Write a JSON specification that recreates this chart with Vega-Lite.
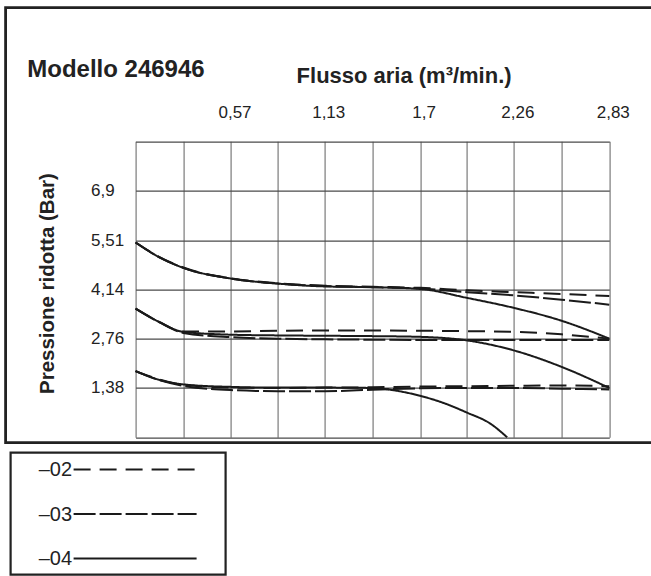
{
  "$schema": "https://vega.github.io/schema/vega-lite/v6.json",
  "autosize": {"type": "pad"},
  "padding": {"left": 3.6, "top": 5.6, "right": -3.4, "bottom": 0},
  "spacing": 3,
  "background": "white",
  "vconcat": [
    {
      "width": 648,
      "height": 435,
      "view": {"stroke": "#222", "strokeWidth": 2.8},
      "title": {"text": "Modello 246946", "anchor": "start", "frame": "group", "dx": 21.7, "dy": 93, "offset": 0, "baseline": "alphabetic", "fontSize": 24, "fontWeight": "bold", "font": "Liberation Sans", "color": "#222"},
      "data": {"values": [
        {"g":"A","s":"02","x":0,"y":5.45},{"g":"A","s":"02","x":0.14,"y":5.05},{"g":"A","s":"02","x":0.285,"y":4.75},{"g":"A","s":"02","x":0.57,"y":4.45},{"g":"A","s":"02","x":0.85,"y":4.31},{"g":"A","s":"02","x":1.13,"y":4.24},{"g":"A","s":"02","x":1.415,"y":4.21},{"g":"A","s":"02","x":1.7,"y":4.18},{"g":"A","s":"02","x":1.98,"y":4.11},{"g":"A","s":"02","x":2.26,"y":4.06},{"g":"A","s":"02","x":2.545,"y":4.01},{"g":"A","s":"02","x":2.83,"y":3.95},
        {"g":"A","s":"03","x":0,"y":5.45},{"g":"A","s":"03","x":0.14,"y":5.04},{"g":"A","s":"03","x":0.285,"y":4.74},{"g":"A","s":"03","x":0.57,"y":4.44},{"g":"A","s":"03","x":0.85,"y":4.3},{"g":"A","s":"03","x":1.13,"y":4.23},{"g":"A","s":"03","x":1.415,"y":4.2},{"g":"A","s":"03","x":1.7,"y":4.16},{"g":"A","s":"03","x":1.98,"y":4.06},{"g":"A","s":"03","x":2.26,"y":3.97},{"g":"A","s":"03","x":2.545,"y":3.85},{"g":"A","s":"03","x":2.83,"y":3.71},
        {"g":"A","s":"04","x":0,"y":5.45},{"g":"A","s":"04","x":0.14,"y":5.04},{"g":"A","s":"04","x":0.285,"y":4.74},{"g":"A","s":"04","x":0.57,"y":4.44},{"g":"A","s":"04","x":0.85,"y":4.3},{"g":"A","s":"04","x":1.13,"y":4.22},{"g":"A","s":"04","x":1.415,"y":4.2},{"g":"A","s":"04","x":1.7,"y":4.15},{"g":"A","s":"04","x":1.98,"y":3.9},{"g":"A","s":"04","x":2.26,"y":3.62},{"g":"A","s":"04","x":2.545,"y":3.26},{"g":"A","s":"04","x":2.83,"y":2.76},
        {"g":"B","s":"02","x":0,"y":3.6},{"g":"B","s":"02","x":0.14,"y":3.23},{"g":"B","s":"02","x":0.285,"y":2.96},{"g":"B","s":"02","x":0.57,"y":2.96},{"g":"B","s":"02","x":0.85,"y":2.98},{"g":"B","s":"02","x":1.13,"y":2.99},{"g":"B","s":"02","x":1.415,"y":2.99},{"g":"B","s":"02","x":1.7,"y":2.98},{"g":"B","s":"02","x":1.98,"y":2.97},{"g":"B","s":"02","x":2.26,"y":2.95},{"g":"B","s":"02","x":2.545,"y":2.88},{"g":"B","s":"02","x":2.83,"y":2.76},
        {"g":"B","s":"03","x":0,"y":3.6},{"g":"B","s":"03","x":0.14,"y":3.22},{"g":"B","s":"03","x":0.285,"y":2.92},{"g":"B","s":"03","x":0.57,"y":2.8},{"g":"B","s":"03","x":0.85,"y":2.76},{"g":"B","s":"03","x":1.13,"y":2.74},{"g":"B","s":"03","x":1.415,"y":2.73},{"g":"B","s":"03","x":1.7,"y":2.72},{"g":"B","s":"03","x":1.98,"y":2.72},{"g":"B","s":"03","x":2.26,"y":2.72},{"g":"B","s":"03","x":2.545,"y":2.72},{"g":"B","s":"03","x":2.83,"y":2.72},
        {"g":"B","s":"04","x":0,"y":3.6},{"g":"B","s":"04","x":0.14,"y":3.23},{"g":"B","s":"04","x":0.285,"y":2.95},{"g":"B","s":"04","x":0.57,"y":2.87},{"g":"B","s":"04","x":0.85,"y":2.85},{"g":"B","s":"04","x":1.13,"y":2.84},{"g":"B","s":"04","x":1.415,"y":2.83},{"g":"B","s":"04","x":1.7,"y":2.81},{"g":"B","s":"04","x":1.98,"y":2.71},{"g":"B","s":"04","x":2.26,"y":2.43},{"g":"B","s":"04","x":2.545,"y":1.97},{"g":"B","s":"04","x":2.83,"y":1.38},
        {"g":"C","s":"02","x":0,"y":1.85},{"g":"C","s":"02","x":0.14,"y":1.62},{"g":"C","s":"02","x":0.285,"y":1.47},{"g":"C","s":"02","x":0.57,"y":1.39},{"g":"C","s":"02","x":0.85,"y":1.38},{"g":"C","s":"02","x":1.13,"y":1.39},{"g":"C","s":"02","x":1.415,"y":1.4},{"g":"C","s":"02","x":1.7,"y":1.42},{"g":"C","s":"02","x":1.98,"y":1.43},{"g":"C","s":"02","x":2.26,"y":1.44},{"g":"C","s":"02","x":2.545,"y":1.45},{"g":"C","s":"02","x":2.83,"y":1.43},
        {"g":"C","s":"03","x":0,"y":1.85},{"g":"C","s":"03","x":0.14,"y":1.6},{"g":"C","s":"03","x":0.285,"y":1.44},{"g":"C","s":"03","x":0.57,"y":1.32},{"g":"C","s":"03","x":0.85,"y":1.29},{"g":"C","s":"03","x":1.13,"y":1.29},{"g":"C","s":"03","x":1.415,"y":1.33},{"g":"C","s":"03","x":1.7,"y":1.37},{"g":"C","s":"03","x":1.98,"y":1.38},{"g":"C","s":"03","x":2.26,"y":1.38},{"g":"C","s":"03","x":2.545,"y":1.36},{"g":"C","s":"03","x":2.83,"y":1.34},
        {"g":"C","s":"04","x":0,"y":1.85},{"g":"C","s":"04","x":0.14,"y":1.61},{"g":"C","s":"04","x":0.285,"y":1.48},{"g":"C","s":"04","x":0.57,"y":1.41},{"g":"C","s":"04","x":0.85,"y":1.39},{"g":"C","s":"04","x":1.13,"y":1.39},{"g":"C","s":"04","x":1.415,"y":1.38},{"g":"C","s":"04","x":1.55,"y":1.31},{"g":"C","s":"04","x":1.7,"y":1.16},{"g":"C","s":"04","x":1.84,"y":0.96},{"g":"C","s":"04","x":1.98,"y":0.69},{"g":"C","s":"04","x":2.12,"y":0.38},{"g":"C","s":"04","x":2.22,"y":0.0}
      ]},
      "mark": {"type": "line", "interpolate": "monotone", "strokeWidth": 2, "color": "#1a1a1a"},
      "encoding": {
        "x": {
          "field": "x", "type": "quantitative",
          "scale": {"domain": [0, 2.83], "range": [130, 603.7], "nice": false, "zero": false},
          "axis": {
            "orient": "top", "offset": -133.7,
            "values": [0, 0.285, 0.57, 0.85, 1.13, 1.415, 1.7, 1.98, 2.26, 2.545, 2.83],
            "format": ".2~f",
            "labelExpr": "indexof([0.57, 1.13, 1.7, 2.26, 2.83], datum.value) >= 0 ? replace(datum.label, '.', ',') : ''",
            "labelPadding": 24, "labelBaseline": "alphabetic", "labelOffset": 3.5,
            "grid": true, "gridColor": "#7a7a7a",
            "title": "Flusso aria (m³/min.)", "titleFontSize": 22, "titleX": 398, "titleY": -59.3, "titleAlign": "center", "titleBaseline": "alphabetic"
          }
        },
        "y": {
          "field": "y", "type": "quantitative",
          "scale": {"domain": [0, 8.28], "range": [429.7, 133.7], "nice": false, "zero": false},
          "axis": {
            "orient": "left", "offset": -130,
            "values": [0, 1.38, 2.76, 4.14, 5.51, 6.9, 8.28],
            "format": ".2~f",
            "labelExpr": "datum.value > 0 && datum.value < 8 ? replace(datum.label, '.', ',') : ''",
            "labelPadding": 45, "labelAlign": "left", "labelBaseline": "middle",
            "grid": true, "gridColor": "#4a4a4a",
            "title": "Pressione ridotta (Bar)", "titleFontSize": 20.5, "titleX": -82, "titleY": 275.5, "titleAngle": -90, "titleAlign": "center", "titleBaseline": "alphabetic"
          }
        },
        "detail": {"field": "g", "type": "nominal"},
        "strokeDash": {
          "field": "s", "type": "nominal",
          "scale": {"domain": ["02", "03", "04"], "range": [[17, 9], [22, 4], [1, 0]]},
          "legend": null
        }
      }
    },
    {
      "spacing": 2,
      "hconcat": [
        {
          "width": 1,
          "height": 1,
          "view": {"stroke": null, "fill": "white"},
          "data": {"values": []},
          "mark": "point"
        },
        {
          "width": 215,
          "height": 122,
          "view": {"stroke": "#222", "strokeWidth": 2.2},
          "data": {"values": [
            {"s":"02","p":0},{"s":"02","p":1},
            {"s":"03","p":0},{"s":"03","p":1},
            {"s":"04","p":0},{"s":"04","p":1}
          ]},
          "mark": {"type": "line", "strokeWidth": 2, "color": "#1a1a1a"},
          "encoding": {
            "x": {"field": "p", "type": "quantitative", "scale": {"domain": [0, 1], "range": [63, 186], "nice": false, "zero": false}, "axis": null},
            "y": {
              "field": "s", "type": "nominal",
              "scale": {"type": "point", "domain": ["02", "03", "04"], "range": [17, 106], "padding": 0},
              "axis": {
                "orient": "left", "title": null, "grid": false, "domain": false,
                "ticks": false, "tickSize": 0,
                "labelPadding": -61, "labelAlign": "right", "labelBaseline": "middle",
                "labelExpr": "'–' + datum.label", "labelFontSize": 20
              }
            },
            "strokeDash": {
              "field": "s", "type": "nominal",
              "scale": {"domain": ["02", "03", "04"], "range": [[17, 9], [22, 4], [1, 0]]},
              "legend": null
            }
          }
        }
      ]
    }
  ],
  "config": {
    "font": "Liberation Sans",
    "axis": {
      "domain": false, "ticks": false, "tickSize": 0,
      "labelFont": "Liberation Sans", "labelFontSize": 17, "labelColor": "#222",
      "titleFont": "Liberation Sans", "titleColor": "#222", "titleFontWeight": "bold",
      "gridWidth": 1.2, "gridOpacity": 1, "labelFlush": false, "labelOverlap": false, "labelBound": false
    }
  }
}
